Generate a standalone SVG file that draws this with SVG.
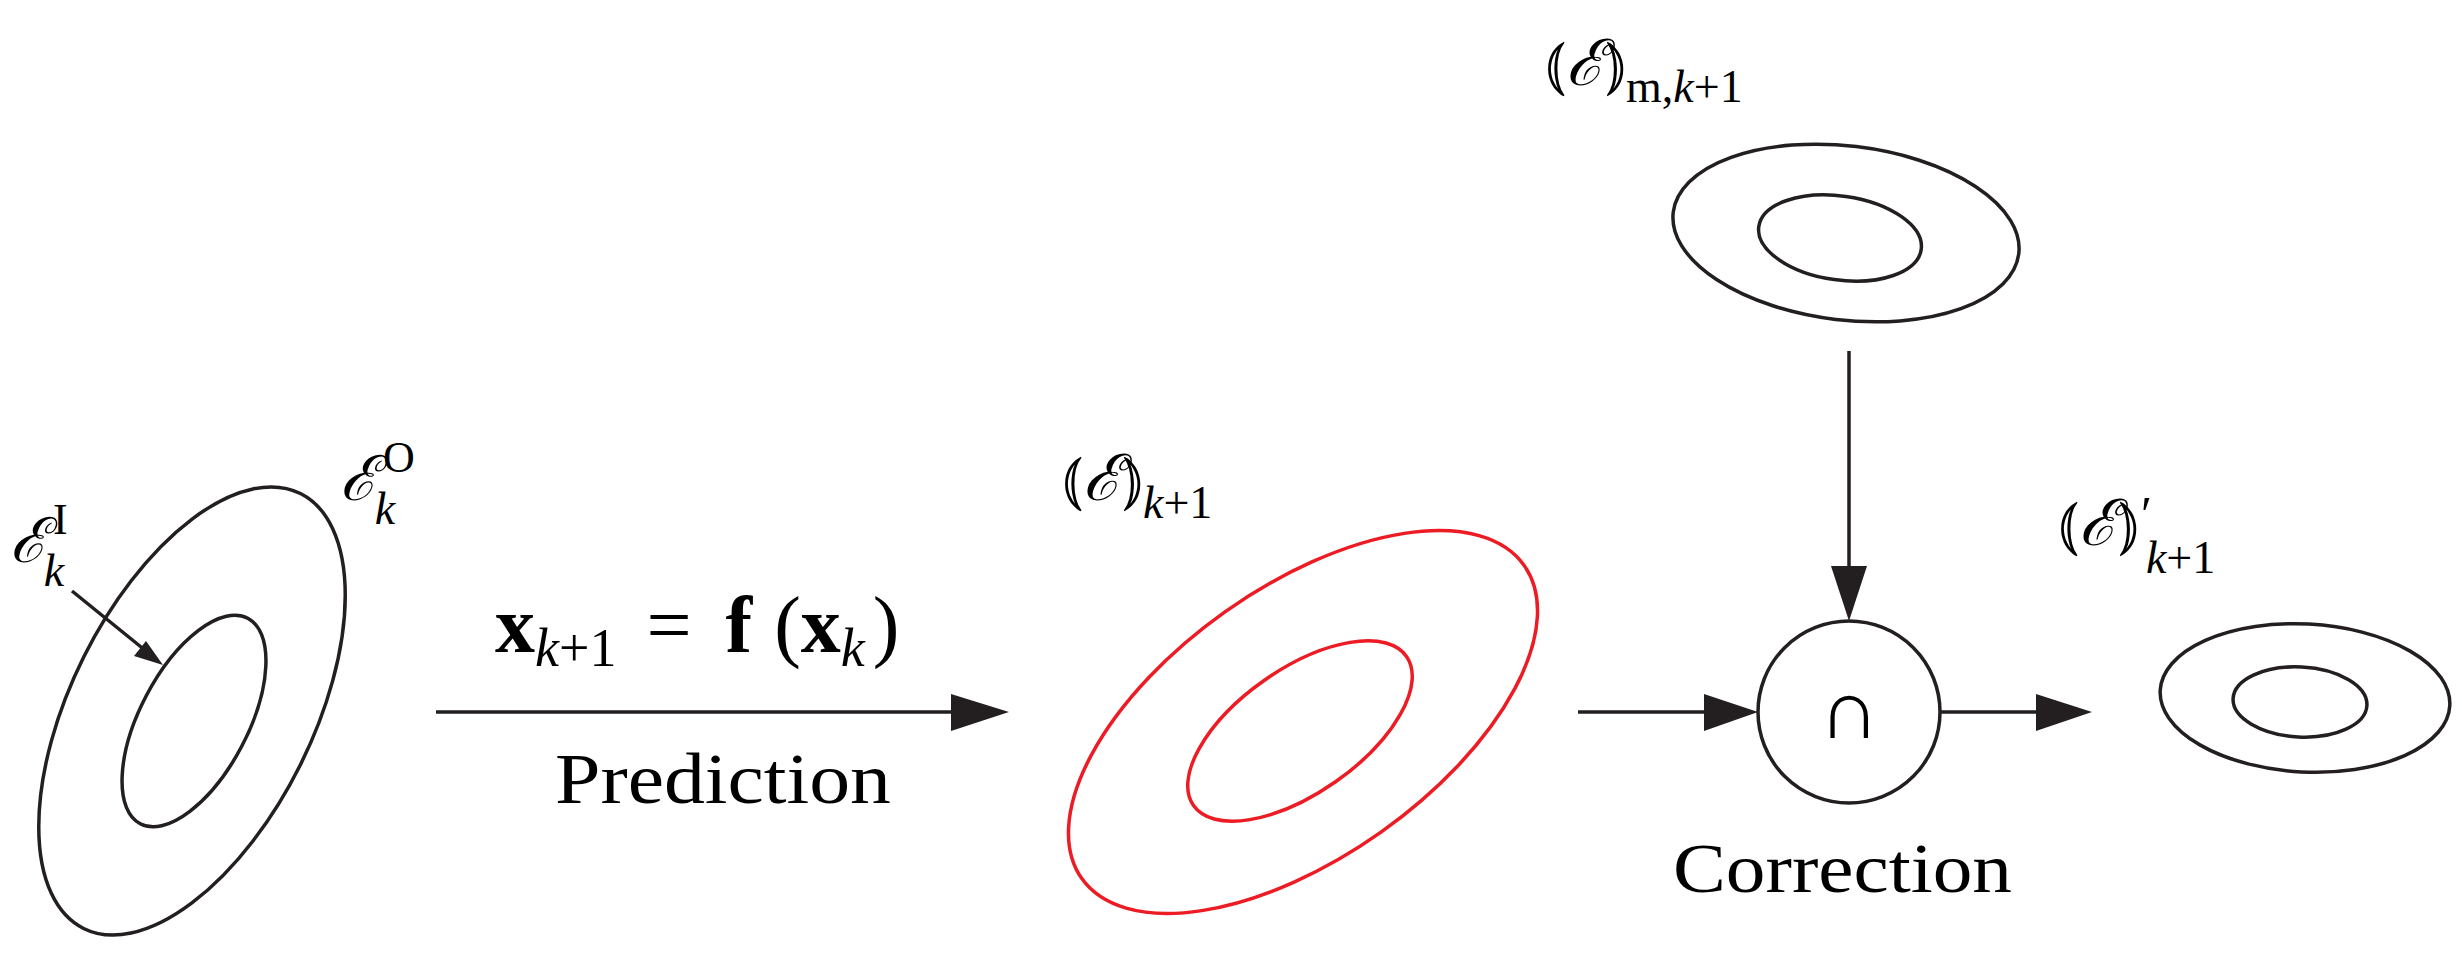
<svg xmlns="http://www.w3.org/2000/svg" width="2462" height="955" viewBox="0 0 2462 955">
<style>
.s{fill:none;stroke:#231f20;stroke-width:3.5}
.r{fill:none;stroke:#ed1c24;stroke-width:3.5}
.t{font-family:"Liberation Serif","DejaVu Serif",serif;fill:#000}
.i{font-style:italic}
.e{font-family:"DejaVu Serif",serif;font-style:italic}
.h{fill:#231f20}
</style>
<rect width="2462" height="955" fill="#fff"/>
<g id="n_left">
<ellipse class="s" cx="192" cy="711" rx="243" ry="121" transform="rotate(-63.5 192 711)"/>
<ellipse class="s" cx="194" cy="721" rx="116" ry="54" transform="rotate(-62.4 194 721)"/>
<text class="t" x="10" y="562" font-size="62"><tspan class="e">ℰ</tspan><tspan dx="6" dy="-28" font-size="44">I</tspan><tspan class="i" dx="-24" dy="52" font-size="46">k</tspan></text>
<text class="t" x="340" y="500" font-size="62"><tspan class="e">ℰ</tspan><tspan dx="6" dy="-28" font-size="44">O</tspan><tspan class="i" dx="-40" dy="52" font-size="46">k</tspan></text>
</g>
<g id="n_pred">
<ellipse class="r" cx="1303" cy="722" rx="271" ry="135" transform="rotate(-35.3 1303 722)"/>
<ellipse class="r" cx="1300" cy="731" rx="130" ry="62" transform="rotate(-35 1300 731)"/>
<text class="t" x="1062" y="500" font-size="64">⦅<tspan class="e">ℰ</tspan>⦆<tspan class="i" dy="18" font-size="46">k</tspan><tspan font-size="46">+1</tspan></text>
</g>
<g id="n_meas">
<ellipse class="s" cx="1846" cy="233" rx="174" ry="87" transform="rotate(6.8 1846 233)"/>
<ellipse class="s" cx="1840" cy="238" rx="82" ry="42" transform="rotate(8 1840 238)"/>
<text class="t" x="1545" y="85" font-size="64">⦅<tspan class="e">ℰ</tspan>⦆<tspan dy="17" font-size="46">m,</tspan><tspan class="i" font-size="46">k</tspan><tspan font-size="46">+1</tspan></text>
</g>
<g id="n_corr">
<circle class="s" cx="1849" cy="712" r="91"/>
<text class="t" x="1849" y="738" font-size="84" text-anchor="middle">∩</text>
<text class="t" x="1673" y="892" font-size="70" textLength="339" lengthAdjust="spacingAndGlyphs">Correction</text>
</g>
<g id="n_out">
<ellipse class="s" cx="2305" cy="698" rx="145" ry="74" transform="rotate(3 2305 698)"/>
<ellipse class="s" cx="2300" cy="702" rx="67" ry="35" transform="rotate(3 2300 702)"/>
<text class="t" x="2058" y="545" font-size="64">⦅<tspan class="e">ℰ</tspan>⦆<tspan dx="2" dy="-14" font-size="50">′</tspan><tspan class="i" dx="-6" dy="42" font-size="46">k</tspan><tspan font-size="46">+1</tspan></text>
</g>
<g id="connectors">
<line class="s" x1="72" y1="591" x2="146" y2="651"/>
<polygon class="h" points="163,665 134,656 146,641"/>
<line class="s" x1="436" y1="712" x2="955" y2="712"/>
<polygon class="h" points="1009,712 951,694 951,731"/>
<text class="t" x="495" y="652" font-size="80"><tspan font-weight="bold">x</tspan><tspan class="i" dy="14" font-size="54">k</tspan><tspan font-size="54">+1</tspan><tspan dx="30" dy="-14">=</tspan><tspan dx="34" font-weight="bold">f</tspan><tspan dx="22">(</tspan><tspan font-weight="bold">x</tspan><tspan class="i" dy="14" font-size="54">k</tspan><tspan dx="8" dy="-14">)</tspan></text>
<text class="t" x="555" y="803" font-size="72" textLength="336" lengthAdjust="spacingAndGlyphs">Prediction</text>
<line class="s" x1="1578" y1="712" x2="1708" y2="712"/>
<polygon class="h" points="1758,712 1704,694 1704,731"/>
<line class="s" x1="1849" y1="351" x2="1849" y2="570"/>
<polygon class="h" points="1849,621 1831,566 1867,566"/>
<line class="s" x1="1940" y1="712" x2="2040" y2="712"/>
<polygon class="h" points="2092,712 2036,694 2036,731"/>
</g>
</svg>
